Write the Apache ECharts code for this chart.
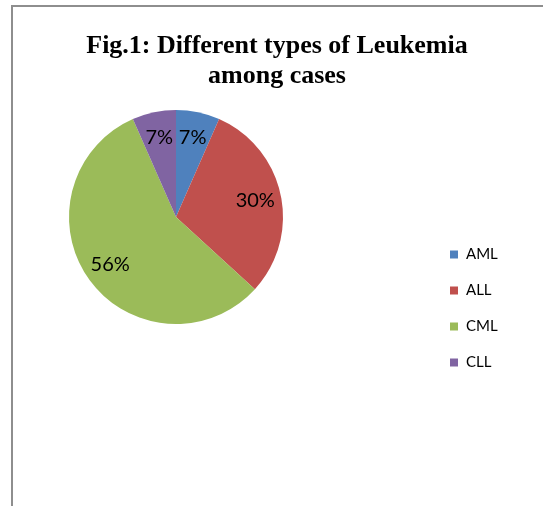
<!DOCTYPE html>
<html>
<head>
<meta charset="utf-8">
<script src="https://cdn.jsdelivr.net/npm/echarts@6/dist/echarts.min.js"></script>
<style>
  html, body { margin: 0; padding: 0; background: #ffffff; }
  #chart { width: 543px; height: 506px; }
</style>
</head>
<body>
<div id="chart"></div>
<script>
// Data
const categories = ['AML', 'ALL', 'CML', 'CLL'];
const shareValues = [6.6, 30.2, 56.6, 6.6];          // slice sizes (measured angles, %)
const labelTexts = ['7%', '30%', '56%', '7%'];       // data labels as printed
const colors = ['#4F81BD', '#C0504D', '#9BBB59', '#8064A2'];

const titleText = 'Fig.1: Different types of Leukemia\namong cases';

const pieData = categories.map((name, i) => ({
  name: name,
  value: shareValues[i],
  itemStyle: { color: colors[i] }
}));

const labelData = categories.map((name, i) => ({
  name: name,
  value: shareValues[i],
  label: { formatter: labelTexts[i] }
}));

const chart = echarts.init(document.getElementById('chart'), null, { renderer: 'canvas' });

chart.setOption({
  backgroundColor: '#ffffff',
  animation: false,
  title: {
    text: titleText,
    left: 277,
    top: 31,
    padding: 0,
    textAlign: 'center',
    textStyle: {
      fontFamily: '"Liberation Serif", "Times New Roman", serif',
      fontWeight: 'bold',
      fontSize: 26,
      lineHeight: 30,
      color: '#000000'
    }
  },
  legend: {
    orient: 'vertical',
    left: 450,
    top: 247,
    padding: 0,
    itemWidth: 8,
    itemHeight: 8,
    itemGap: 21,
    icon: 'rect',
    data: categories,
    textStyle: {
      fontFamily: 'Lato, "Liberation Sans", sans-serif',
      fontSize: 15,
      lineHeight: 15,
      color: '#000000',
      padding: [0, 0, 0, 3]
    }
  },
  graphic: [{
    type: 'rect',
    shape: { x: 12, y: 6, width: 700, height: 700 },
    style: { fill: 'none', stroke: '#8e8e8e', lineWidth: 2 },
    silent: true,
    z: 100
  }],
  series: [
    {
      type: 'pie',
      center: [176, 217],
      radius: [0, 107],
      startAngle: 90,
      clockwise: true,
      avoidLabelOverlap: false,
      label: { show: false },
      labelLine: { show: false },
      itemStyle: { borderWidth: 0 },
      emphasis: { disabled: true },
      data: pieData
    },
    {
      type: 'pie',
      center: [176, 217],
      radius: [0, 156],
      startAngle: 90,
      clockwise: true,
      silent: true,
      avoidLabelOverlap: false,
      legendHoverLink: false,
      itemStyle: { color: 'rgba(0,0,0,0)', borderWidth: 0 },
      label: {
        show: true,
        position: 'inside',
        fontFamily: 'Lato, "Liberation Sans", sans-serif',
        fontSize: 20,
        color: '#000000'
      },
      labelLine: { show: false },
      emphasis: { disabled: true },
      z: 3,
      data: labelData
    }
  ]
});
</script>
</body>
</html>
